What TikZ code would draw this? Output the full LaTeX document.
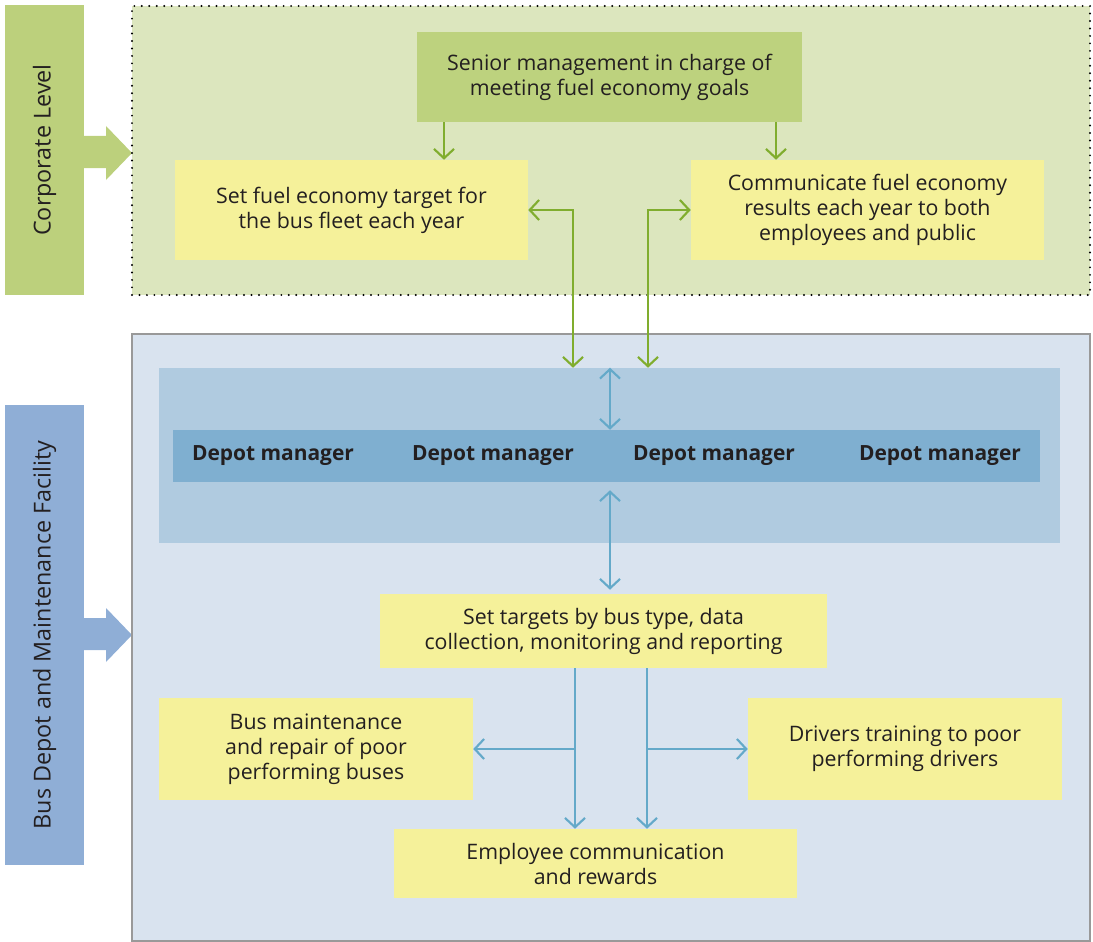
\documentclass[tikz,border=0pt]{standalone}
\usepackage{fontspec}
\setmainfont{Open Sans}
\usepackage{xcolor}
\usetikzlibrary{arrows.meta}
\definecolor{corpband}{HTML}{BCD07C}
\definecolor{corpzone}{HTML}{DCE6BE}
\definecolor{seniorfill}{HTML}{BDD27E}
\definecolor{boxyellow}{HTML}{F5F19A}
\definecolor{depotband}{HTML}{8FAED6}
\definecolor{depotzone}{HTML}{D9E3EF}
\definecolor{mgrband}{HTML}{B0CBE0}
\definecolor{mgrbar}{HTML}{7FAFD0}
\definecolor{greenline}{HTML}{80AD2E}
\definecolor{blueline}{HTML}{64A9C9}
\definecolor{inktext}{HTML}{231F20}

\begin{document}
\begin{tikzpicture}[x=0.75pt,y=-0.75pt,
  every node/.style={text=inktext,font=\fontsize{16}{18.75}\selectfont,inner sep=0pt,align=center},
  sized/.style 2 args={minimum width=#1*0.75pt,minimum height=#2*0.75pt},
  ybox/.style={fill=boxyellow},
  levellabel/.style={rotate=90,font=\fontsize{17.5}{20}\selectfont},
  garrow/.style={draw=greenline,line width=1.6pt,-{Straight Barb[length=7pt,width=15pt]}},
  barrow/.style={draw=blueline,line width=1.6pt,-{Straight Barb[length=7pt,width=15pt]}}]
\useasboundingbox (0,0) rectangle (1093,942);

% corporate level
\node [fill=corpband,levellabel,sized={290}{79}] (corp) at (44.5,150) {Corporate Level};
\fill [corpband] (84,136) -- (106,136) -- (106,126) -- (132,153) -- (106,180) -- (106,168) -- (84,168) -- cycle;
\node [fill=corpzone,draw=black,line width=1.6pt,line cap=round,dash pattern=on 0pt off 5.6pt,sized={958}{289}] (corpzone) at (611,150.5) {};
\node [fill=seniorfill,sized={385}{90}] (senior) at (609.5,77) {Senior management in charge of\\meeting fuel economy goals};
\node [ybox,sized={353}{100}] (target) at (351.5,210) {Set fuel economy target for\\the bus fleet each year};
\node [ybox,sized={353}{100}] (comm) at (867.5,210) {Communicate fuel economy\\results each year to both\\employees and public};

% depot level
\node [fill=depotband,levellabel,sized={460}{79}] (depot) at (44.5,635) {Bus Depot and Maintenance Facility};
\fill [depotband] (84,618) -- (106,618) -- (106,608) -- (132,635) -- (106,662) -- (106,650) -- (84,650) -- cycle;
\node [fill=depotzone,draw=gray!80,line width=1pt,sized={958}{607}] (depotzone) at (611,637.5) {};
\node [fill=mgrband,sized={901}{175}] (band) at (609.5,455.5) {};
\node [fill=mgrbar,sized={867}{52}] (bar) at (606.5,456) {};
\foreach \i/\x in {1/273,2/493,3/714,4/940}
  \node [font=\fontsize{15.7}{18.75}\selectfont\bfseries] (dm\i) at (\x,456) {Depot manager};
\node [ybox,sized={447}{74}] (settgt) at (603.5,631) {Set targets by bus type, data\\collection, monitoring and reporting};
\node [ybox,sized={314}{102}] (maint) at (316,749) {Bus maintenance\\and repair of poor\\performing buses};
\node [ybox,sized={314}{102}] (drivers) at (905,749) {Drivers training to poor\\performing drivers};
\node [ybox,sized={403}{69}] (empl) at (595.5,863.5) {Employee communication\\and rewards};

% connector lines
\coordinate (gA) at (444,0);
\coordinate (gB) at (776,0);
\coordinate (gC) at (573,0);
\coordinate (gD) at (648,0);
\coordinate (bA) at (610,0);
\coordinate (bL) at (575,0);
\coordinate (bR) at (647,0);
\draw [garrow] (senior.south -| gA) -- (target.north -| gA);
\draw [garrow] (senior.south -| gB) -- (comm.north -| gB);
\draw [garrow,{Straight Barb[length=7pt,width=15pt]}-{Straight Barb[length=7pt,width=15pt]}] (target.east) -| (band.north -| gC);
\draw [garrow,{Straight Barb[length=7pt,width=15pt]}-{Straight Barb[length=7pt,width=15pt]}] (comm.west) -| (band.north -| gD);
\draw [barrow,{Straight Barb[length=7pt,width=15pt]}-{Straight Barb[length=7pt,width=15pt]}] (band.north -| bA) -- (bar.north -| bA);
\draw [barrow,{Straight Barb[length=7pt,width=15pt]}-{Straight Barb[length=7pt,width=15pt]},shorten <=6pt,shorten >=3pt] (bar.south -| bA) -- (settgt.north -| bA);
\draw [barrow] (settgt.south -| bL) -- (empl.north -| bL);
\draw [barrow] (settgt.south -| bR) -- (empl.north -| bR);
\draw [barrow] (maint.east -| bL) -- (maint.east);
\draw [barrow] (drivers.west -| bR) -- (drivers.west);
\end{tikzpicture}
\end{document}
